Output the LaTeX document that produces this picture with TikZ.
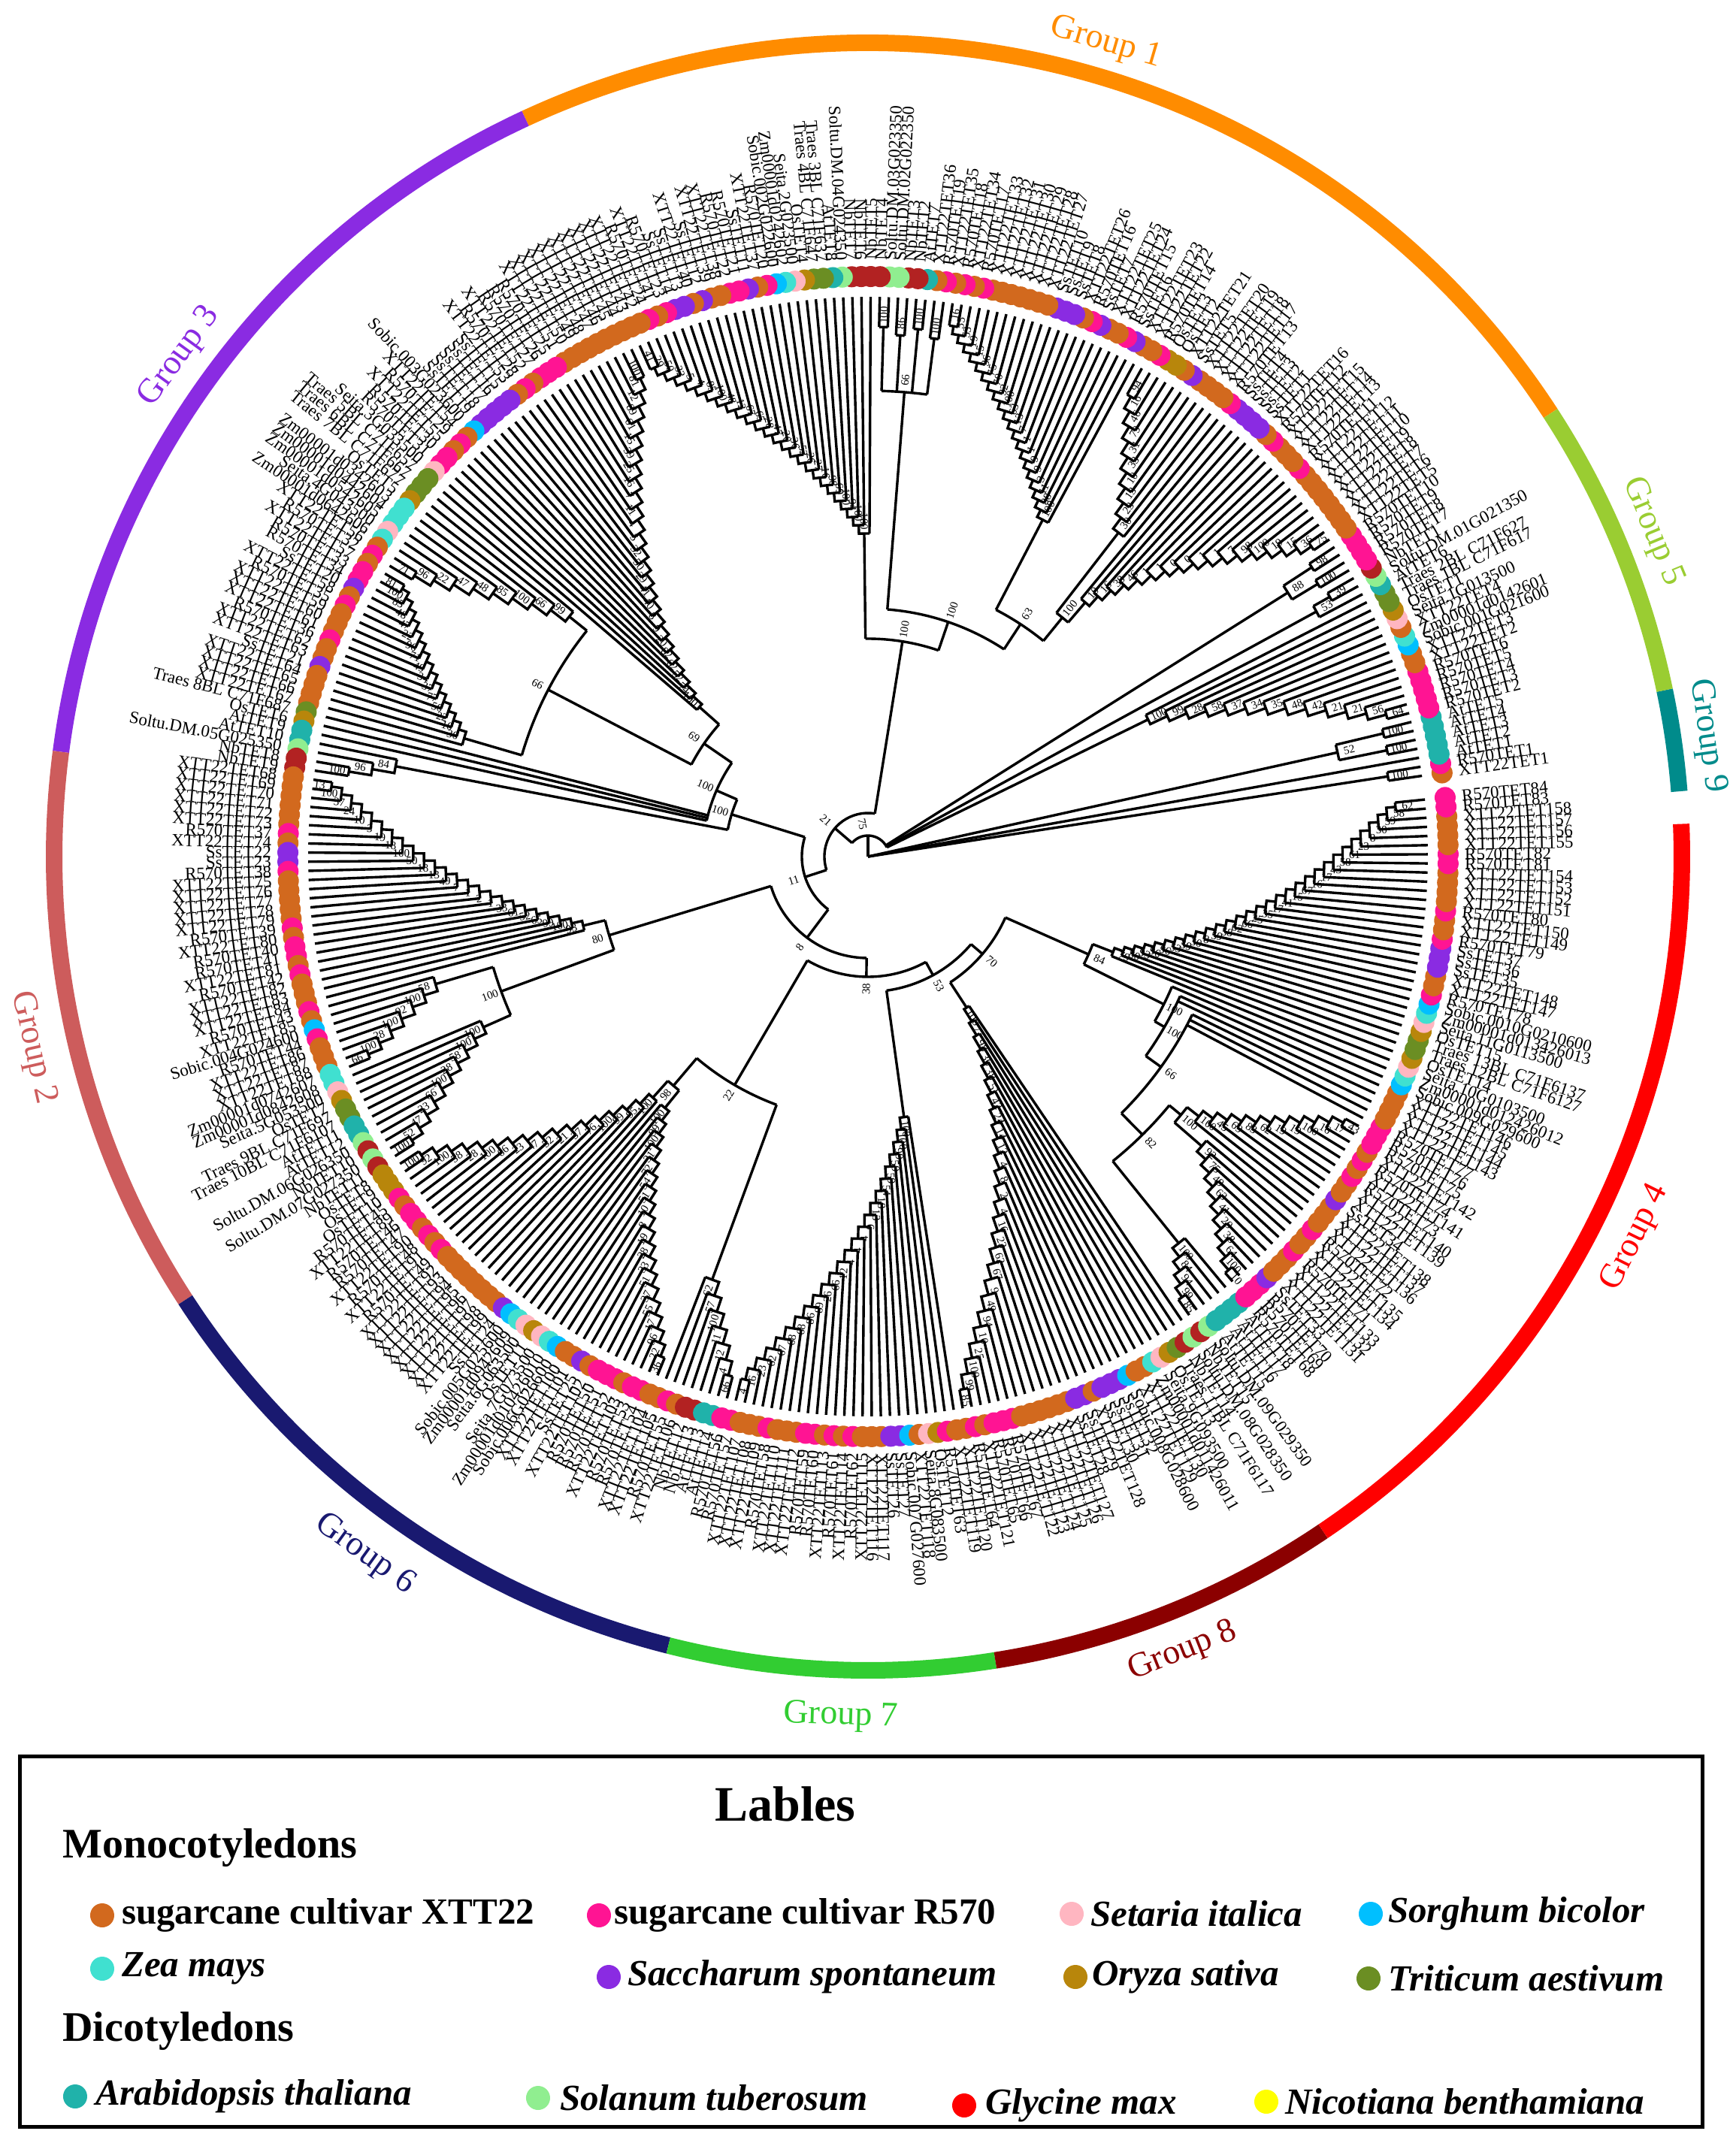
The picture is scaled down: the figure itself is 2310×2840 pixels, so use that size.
\documentclass[tikz,border=0pt]{standalone}
\usepackage{fontspec}
\setmainfont{Liberation Serif}
\definecolor{spo}{HTML}{D2691E}
\definecolor{spm}{HTML}{FF1493}
\definecolor{spk}{HTML}{FFB6C1}
\definecolor{spb}{HTML}{00BFFF}
\definecolor{spc}{HTML}{40E0D0}
\definecolor{spp}{HTML}{8A2BE2}
\definecolor{spg}{HTML}{B8860B}
\definecolor{spv}{HTML}{6B8E23}
\definecolor{spt}{HTML}{20B2AA}
\definecolor{spl}{HTML}{90EE90}
\definecolor{spr}{HTML}{B22222}
\definecolor{spy}{HTML}{FFFF00}
\definecolor{legred}{HTML}{FF0000}
\definecolor{grA}{HTML}{FF8C00}
\definecolor{grB}{HTML}{CD5C5C}
\definecolor{grC}{HTML}{8A2BE2}
\definecolor{grD}{HTML}{FF0000}
\definecolor{grE}{HTML}{9ACD32}
\definecolor{grF}{HTML}{191970}
\definecolor{grG}{HTML}{32CD32}
\definecolor{grH}{HTML}{8B0000}
\definecolor{grI}{HTML}{008B8B}
\newcounter{cno}\newcounter{cnm}\newcounter{cnp}\newcounter{cnk}\newcounter{cnb}\newcounter{cnc}
\newcounter{cng}\newcounter{cnv}\newcounter{cnt}\newcounter{cnl}\newcounter{cnr}
\newcommand\lbo[1]{XTT22TET#1}
\newcommand\lbm[1]{R570TET#1}
\newcommand\lbp[1]{SsTET#1}
\newcommand\lbk[1]{Seita.#1G0#13500}
\newcommand\lbb[1]{Sobic.00#1G02#1600}
\newcommand\lbc[1]{Zm00001d0#14260#1}
\newcommand\lbg[1]{OsTET#1}
\newcommand\lbv[1]{Traes #1BL C71F6#17}
\newcommand\lbt[1]{AtTET#1}
\newcommand\lbl[1]{Soltu.DM.0#1G02#1350}
\newcommand\lbr[1]{NbTET#1}
\newcommand\tha[1]{\fpeval{8.3+0.936*(#1)}}
\def\Rt{745}
\tikzset{
  br/.style={line width=3.4pt},
  bsn/.style={font=\fontsize{15}{15}\selectfont, inner sep=0pt},
  lab/.style={font=\fontsize{23}{23}\selectfont, inner sep=0pt},
  grp/.style={font=\fontsize{46}{46}\selectfont, inner sep=0pt},
  legt/.style={anchor=west, font=\fontsize{49}{49}\selectfont\bfseries, inner sep=0pt},
  legi/.style={anchor=west, font=\fontsize{49}{49}\selectfont\bfseries\itshape, inner sep=0pt},
  ring/.style={line width=22pt}
}
\newcommand\bsl[3]{%
  \edef\zrot{\fpeval{cosd(#1)<0 ? #1+180 : #1}}%
  \node[bsn,rotate=\zrot] at (#1:#2pt) {#3};}
\newcommand\leafln[2]{\edef\zla{\tha{#1}}\draw[br] (\zla:#2pt) -- (\zla:\Rt pt);}
\newcommand\fan[5]{%
  \edef\zfa{\tha{#1}}\edef\zfb{\tha{#2}}\edef\zfm{\fpeval{(\zfa+\zfb)/2}}%
  \foreach \kk in {#1,...,#2}{\edef\zak{\tha{\kk}}\draw[br] (\zak:#3pt) -- (\zak:\Rt pt);}%
  \draw[br] (\zfa:#3pt) arc[start angle=\zfa, end angle=\zfb, radius=#3pt];
  \draw[br] (\zfm:#4pt) -- (\zfm:#3pt);
  \edef\zr{\fpeval{#3+16}}\bsl{\zfm}{\zr}{#5}%
  \xdef\lastang{\zfm}}
\newcommand\jn[5]{%
  \edef\zja{#1}\edef\zjb{#2}\edef\zjm{\fpeval{(\zja+\zjb)/2}}%
  \draw[br] (\zja:#3pt) arc[start angle=\zja, end angle=\zjb, radius=#3pt];
  \draw[br] (\zjm:#4pt) -- (\zjm:#3pt);
  \edef\zr{\fpeval{#3+16}}\bsl{\zjm}{\zr}{#5}%
  \xdef\lastang{\zjm}}
% ladder: kin, kend, rin, rout, rparent, labels
\newcommand\ladder[6]{%
  \edef\Ln{\fpeval{abs(#2-#1)-1}}%
  \edef\Ld{\fpeval{#2>#1 ? 1 : -1}}%
  \expandafter\xdef\csname LA\Ln\endcsname{\fpeval{(\tha{#1+(\Ln)*(\Ld)}+\tha{#2})/2}}%
  \ifnum\Ln>0
    \foreach \m in {1,...,\Ln}{%
      \edef\zii{\fpeval{\Ln-\m+1}}%
      \edef\zjj{\fpeval{\zii-1}}%
      \edef\zprev{\csname LA\zii\endcsname}%
      \expandafter\xdef\csname LA\zjj\endcsname{\fpeval{(\tha{#1+(\zjj)*(\Ld)}+\zprev)/2}}%
    }%
  \fi
  \edef\Ls{\fpeval{\Ln>0 ? (#4-#3)/\Ln : 0}}%
  \foreach \zii in {0,...,\Ln}{%
    \edef\zri{\fpeval{#3+\zii*\Ls}}%
    \edef\ztl{\tha{#1+(\zii)*(\Ld)}}%
    \draw[br] (\ztl:\zri pt) -- (\ztl:\Rt pt);
    \ifnum\zii<\Ln
      \edef\zjj{\fpeval{\zii+1}}%
      \edef\znA{\csname LA\zjj\endcsname}%
      \edef\zrn{\fpeval{\zri+\Ls}}%
      \draw[br] (\ztl:\zri pt) arc[start angle=\ztl, end angle=\znA, radius=\zri pt] -- (\znA:\zrn pt);
    \else
      \edef\zte{\tha{#2}}%
      \draw[br] (\zte:\zri pt) -- (\zte:\Rt pt);
      \draw[br] (\ztl:\zri pt) arc[start angle=\ztl, end angle=\zte, radius=\zri pt];
    \fi
  }%
  \edef\zaZ{\csname LA0\endcsname}%
  \draw[br] (\zaZ:#5pt) -- (\zaZ:#3pt);
  \foreach \lab [count=\ci from 0] in {#6}{%
    \ifnum\ci>\Ln\else
      \edef\zri{\fpeval{#3+\ci*\Ls+16}}%
      \edef\zaa{\csname LA\ci\endcsname}%
      \bsl{\zaa}{\zri}{\lab}%
    \fi
  }%
  \xdef\lastang{\zaZ}%
}
\begin{document}
\begin{tikzpicture}
\fill[white] (-1155pt,-1700pt) rectangle (1155pt,1140pt);
\useasboundingbox (-1155pt,-1700pt) rectangle (1155pt,1140pt);

% ---------- group ring ----------
\draw[ring,draw=grA] (33:1083pt) arc[start angle=33, end angle=114.9, radius=1083pt];
\draw[ring,draw=grC] (114.9:1083pt) arc[start angle=114.9, end angle=172.6, radius=1083pt];
\draw[ring,draw=grB] (172.6:1083pt) arc[start angle=172.6, end angle=213, radius=1083pt];
\draw[ring,draw=grF] (213:1083pt) arc[start angle=213, end angle=255.8, radius=1083pt];
\draw[ring,draw=grG] (255.8:1083pt) arc[start angle=255.8, end angle=279, radius=1083pt];
\draw[ring,draw=grH] (279:1083pt) arc[start angle=279, end angle=304, radius=1083pt];
\draw[ring,draw=grD] (304:1083pt) arc[start angle=304, end angle=362.3, radius=1083pt];
\draw[ring,draw=grI] (4.6:1083pt) arc[start angle=4.6, end angle=11.8, radius=1083pt];
\draw[ring,draw=grE] (11.8:1083pt) arc[start angle=11.8, end angle=33, radius=1083pt];

\node[grp,text=grA,rotate=-16.3] (l1) at (73.7:1128pt) {Group 1};
\node[grp,text=grE,rotate=-67.5] (l5) at (22.5:1130pt) {Group 5};
\node[grp,text=grI,rotate=-81.8] (l9) at (8.2:1128pt) {Group 9};
\node[grp,text=grD,rotate=63.6] (l4) at (-26.4:1140pt) {Group 4};
\node[grp,text=grH,rotate=21.6] (l8) at (-68.4:1138pt) {Group 8};
\node[grp,text=grG,rotate=-1.8] (l7) at (-91.8:1145pt) {Group 7};
\node[grp,text=grF,rotate=-35.8] (l6) at (-125.8:1145pt) {Group 6};
\node[grp,text=grB,rotate=282.9] (l2) at (192.9:1140pt) {Group 2};
\node[grp,text=grC,rotate=54] (l3) at (144:1132pt) {Group 3};

% ---------- leaves: dots and labels ----------
\foreach \col [count=\k from 0] in {
o,m,t,t,t,t,t,m,m,m,m,m,o,o,b,c,o,k,
g,v,v,t,l,r,m,m,m,m,o,o,o,o,o,o,o,o,m,o,o,o,m,o,p,p,p,p,m,o,o,o,o,p,o,g,g,m,o,o,p,m,o,o,p,m,o,p,p,p,
o,o,o,o,o,o,o,m,o,m,o,m,o,t,r,r,l,l,r,r,r,r,l,t,v,v,g,k,c,b,m,o,p,m,m,o,o,p,o,p,p,m,o,
m,o,o,o,o,o,o,o,o,o,o,m,m,m,o,m,o,p,p,p,p,p,b,o,m,o,m,m,k,v,v,v,g,c,c,c,k,c,o,m,o,m,m,p,o,m,o,o,o,m,o,o,
p,o,o,o,o,v,g,t,t,l,r,r,o,o,o,o,o,o,m,o,p,p,m,o,o,o,o,o,m,o,m,m,o,m,o,o,o,m,o,b,m,o,o,o,c,c,k,g,
v,v,t,t,l,r,l,r,g,g,g,m,o,m,m,o,m,o,m,o,o,o,o,o,o,o,o,p,b,c,k,g,k,c,b,o,o,p,o,m,m,m,o,m,m,o,o,m,
o,r,r,t,t,m,m,o,o,o,m,o,o,o,m,m,o,m,o,m,o,o,o,p,p,b,o,k,g,m,o,o,m,o,m,m,m,o,o,o,o,o,o,p,p,
o,p,p,p,b,o,o,c,k,g,v,r,l,r,l,t,t,t,t,m,m,m,p,o,o,o,m,o,o,m,o,o,o,p,o,o,m,o,m,o,m,m,m,o,o,o,o,b,c,k,g,v,v,g,k,c,b,
m,o,o,p,p,p,m,o,o,m,o,o,o,o,m,m,o,o,o,o,m,m}{%
  \edef\za{\tha{\k}}%
  \fill[fill=sp\col] (\za:772pt) circle[radius=14pt];
  \stepcounter{cn\col}%
  \edef\znum{\arabic{cn\col}}%
  \ifnum\fpeval{cosd(\za)<0}=1
    \node[lab,anchor=east,rotate=\fpeval{\za+180}] at (\za:794pt) {\csname lb\col\endcsname{\znum}};
  \else
    \node[lab,anchor=west,rotate=\za] at (\za:794pt) {\csname lb\col\endcsname{\znum}};
  \fi
}

% ---------- Group 9 (from centre) ----------
\fan{0}{1}{700}{0}{100}
\leafln{2}{0}
\fan{3}{4}{705}{640}{100}\let\zA\lastang
\fan{5}{6}{705}{640}{100}\let\zB\lastang
\jn{\zA}{\zB}{640}{0}{52}

% ---------- Group 5 ----------
\ladder{20}{7}{415}{715}{28}{100,99,28,58,37,34,35,48,42,21,21,56,64}\let\aGfa\lastang
\fan{22}{23}{705}{680}{39}\let\zA\lastang
\leafln{21}{680}
\jn{\tha{21}}{\zA}{680}{28}{53}
\fan{24}{25}{700}{660}{100}\let\zA\lastang
\fan{26}{27}{705}{660}{98}\let\zB\lastang
\jn{\zA}{\zB}{660}{28}{88}

% ---------- Group 1 ----------
\ladder{45}{28}{445}{720}{410}{10,16,38,46,1,1,0,0,1,1,7,98,100,19,15,36,75}\let\zA\lastang
\ladder{46}{56}{545}{705}{410}{30,23,13,10,33,31,79,46,16,94}\let\zB\lastang
\jn{\zA}{\zB}{410}{370}{100}\let\zC\lastang
\ladder{57}{78}{505}{715}{370}{100,88,11,3,9,9,1,1,7,13,63,100,32,70,75,36,15,19,53,55,16}\let\zD\lastang
\jn{\zC}{\zD}{370}{330}{63}\let\zE\lastang
\fan{79}{80}{695}{620}{100}\let\zA\lastang
\fan{81}{82}{705}{620}{100}
\fan{83}{84}{695}{620}{86}
\fan{85}{86}{705}{620}{100}\let\zB\lastang
\jn{\zA}{\zB}{620}{330}{66}\let\zF\lastang
\jn{\zE}{\zF}{330}{290}{100}\let\zG\lastang
\ladder{87}{113}{430}{710}{290}{100,100,94,100,69,98,16,27,26,52,36,20,47,28,65,67,12,48,100,85,4,5,32,50,29,41}\let\zH\lastang
\jn{\zG}{\zH}{290}{58}{100}\let\aGone\lastang

% ---------- Group 3 ----------
\ladder{140}{114}{300}{705}{265}{100,74,52,62,82,20,9,8,40,41,29,50,32,5,4,11,7,16,25,39,15,61,89,12,81,100}\let\zA\lastang
\ladder{141}{150}{510}{710}{480}{99,66,100,85,48,47,22,96,71}\let\zB\lastang
\ladder{167}{151}{560}{715}{480}{36,10,22,56,77,37,34,49,71,96,22,47,48,85,100,81}\let\zC\lastang
\jn{\zB}{\zC}{480}{265}{66}\let\zD\lastang
\jn{\zA}{\zD}{265}{220}{69}\let\zE\lastang
\leafln{168}{220}\leafln{169}{220}\leafln{170}{220}
\jn{\zE}{\tha{170}}{220}{190}{100}\let\zF\lastang
\ladder{171}{174}{640}{700}{190}{84,96,100}\let\zG\lastang
\jn{\zF}{\zG}{190}{88}{100}\let\aGthree\lastang

% ---------- Group 2 ----------
\ladder{199}{175}{390}{720}{360}{93,100,99,65,52,61,33,1,2,1,7,49,13,18,50,100,18,19,3,10,24,37,100,13}\let\zA\lastang
\ladder{200}{207}{600}{715}{520}{58,100,92,100,28,100,66}\let\zB\lastang
\ladder{208}{218}{560}{715}{520}{100,100,58,28,100,66,23,47,52,100}\let\zC\lastang
\jn{\zB}{\zC}{520}{360}{100}\let\zD\lastang
\jn{\zA}{\zD}{360}{135}{80}\let\aGtwo\lastang

% ---------- Group 6 ----------
\ladder{236}{219}{430}{715}{400}{100,95,99,100,76,37,21,52,47,23,66,100,28,58,100,92,100}\let\zA\lastang
\ladder{237}{256}{430}{720}{400}{100,99,100,31,72,54,51,10,8,19,28,33,51,37,55,17,96,22,36}\let\zB\lastang
\jn{\zA}{\zB}{400}{352}{98}\let\zC\lastang
\ladder{257}{264}{600}{715}{352}{62,57,100,11,12,4,66}\let\zD\lastang
\jn{\zC}{\zD}{352}{160}{22}\let\aGsix\lastang

% ---------- Group 7 ----------
\ladder{289}{265}{350}{715}{180}{100,100,99,59,59,54,18,13,6,4,4,4,12,66,26,89,86,68,68,67,62,23,16,4}\let\aGseven\lastang

% ---------- Group 8 ----------
\ladder{316}{290}{240}{720}{200}{100,77,98,36,38,51,42,24,14,12,4,8,2,4,16,23,62,67,9,49,94,10,25,100,99,85}\let\aGeight\lastang

% ---------- Group 4 ----------
\ladder{322}{317}{660}{720}{520}{100,84,94,99,85}\let\zA\lastang
\ladder{333}{323}{588}{730}{540}{92,75,49,63,41,29,38,64,100,10}\let\zB\lastang
\ladder{334}{345}{560}{725}{540}{100,45,69,83,62,19,19,100,16,17,43}\let\zC\lastang
\jn{\zB}{\zC}{540}{520}{100}\let\zD\lastang
\jn{\zA}{\zD}{520}{480}{82}\let\zE\lastang
\leafln{346}{480}\leafln{347}{480}\leafln{348}{480}
\jn{\zE}{\tha{348}}{480}{455}{66}\let\zF\lastang
\leafln{349}{455}\leafln{350}{455}
\jn{\zF}{\tha{350}}{455}{440}{100}\let\zG\lastang
\leafln{351}{440}
\jn{\zG}{\tha{351}}{440}{321}{100}\let\zH\lastang
\ladder{352}{382}{350}{705}{321}{79,80,93,96,96,53,59,30,8,59,58,62,66,25,35,17,41,15,67,16,17,43,58,61,23,8,30,59,58,62}\let\zI\lastang
\jn{\zH}{\zI}{321}{200}{84}\let\aGfour\lastang

% ---------- backbone ----------
\jn{\aGeight}{\aGfour}{200}{180}{70}
\jn{\aGseven}{\lastang}{180}{160}{53}
\jn{\aGsix}{\lastang}{160}{135}{38}
\jn{\aGtwo}{\lastang}{135}{88}{8}
\jn{\aGthree}{\lastang}{88}{58}{11}
\jn{\aGone}{\lastang}{58}{28}{21}
\draw[br] (\aGfa:28pt) arc[start angle=\aGfa, end angle=\lastang, radius=28pt];
\draw[br] (0pt,0pt) -- (90:28pt);
\bsl{100}{44}{75}

% ---------- legend ----------
\draw[line width=5pt] (-1128pt,-1197pt) rectangle (1110pt,-1690pt);
\node[font=\fontsize{66}{66}\selectfont\bfseries] (title) at (-110pt,-1261pt) {Lables};
\node[anchor=west, font=\fontsize{56}{56}\selectfont\bfseries] (mono) at (-1075pt,-1319pt) {Monocotyledons};
\node[anchor=west, font=\fontsize{56}{56}\selectfont\bfseries] (dico) at (-1075pt,-1563pt) {Dicotyledons};

\fill[fill=spo] (-1019pt,-1409pt) circle[radius=16pt];
\node[legt] (i1) at (-993pt,-1409pt) {sugarcane cultivar XTT22};
\fill[fill=spm] (-358pt,-1409pt) circle[radius=16pt];
\node[legt] (i2) at (-338pt,-1409pt) {sugarcane cultivar R570};
\fill[fill=spk] (271pt,-1407pt) circle[radius=16pt];
\node[legi] (i3) at (296pt,-1407pt) {Setaria italica};
\fill[fill=spb] (669pt,-1407pt) circle[radius=16pt];
\node[legi] (i4) at (692pt,-1407pt) {Sorghum bicolor};

\fill[fill=spc] (-1019pt,-1480pt) circle[radius=16pt];
\node[legi] (i5) at (-993pt,-1480pt) {Zea mays};
\fill[fill=spp] (-345pt,-1491pt) circle[radius=16pt];
\node[legi] (i6) at (-320pt,-1491pt) {Saccharum spontaneum};
\fill[fill=spg] (276pt,-1491pt) circle[radius=16pt];
\node[legi] (i7) at (298pt,-1491pt) {Oryza sativa};
\fill[fill=spv] (666pt,-1493pt) circle[radius=16pt];
\node[legi] (i8) at (692pt,-1493pt) {Triticum aestivum};

\fill[fill=spt] (-1055pt,-1650pt) circle[radius=16pt];
\node[legi] (i9) at (-1028pt,-1650pt) {Arabidopsis thaliana};
\fill[fill=spl] (-439pt,-1652pt) circle[radius=16pt];
\node[legi] (i10) at (-410pt,-1652pt) {Solanum tuberosum};
\fill[fill=legred] (128pt,-1662pt) circle[radius=16pt];
\node[legi] (i11) at (156pt,-1662pt) {Glycine max};
\fill[fill=spy] (530pt,-1657pt) circle[radius=16pt];
\node[legi] (i12) at (555pt,-1657pt) {Nicotiana benthamiana};
\end{tikzpicture}
\end{document}
